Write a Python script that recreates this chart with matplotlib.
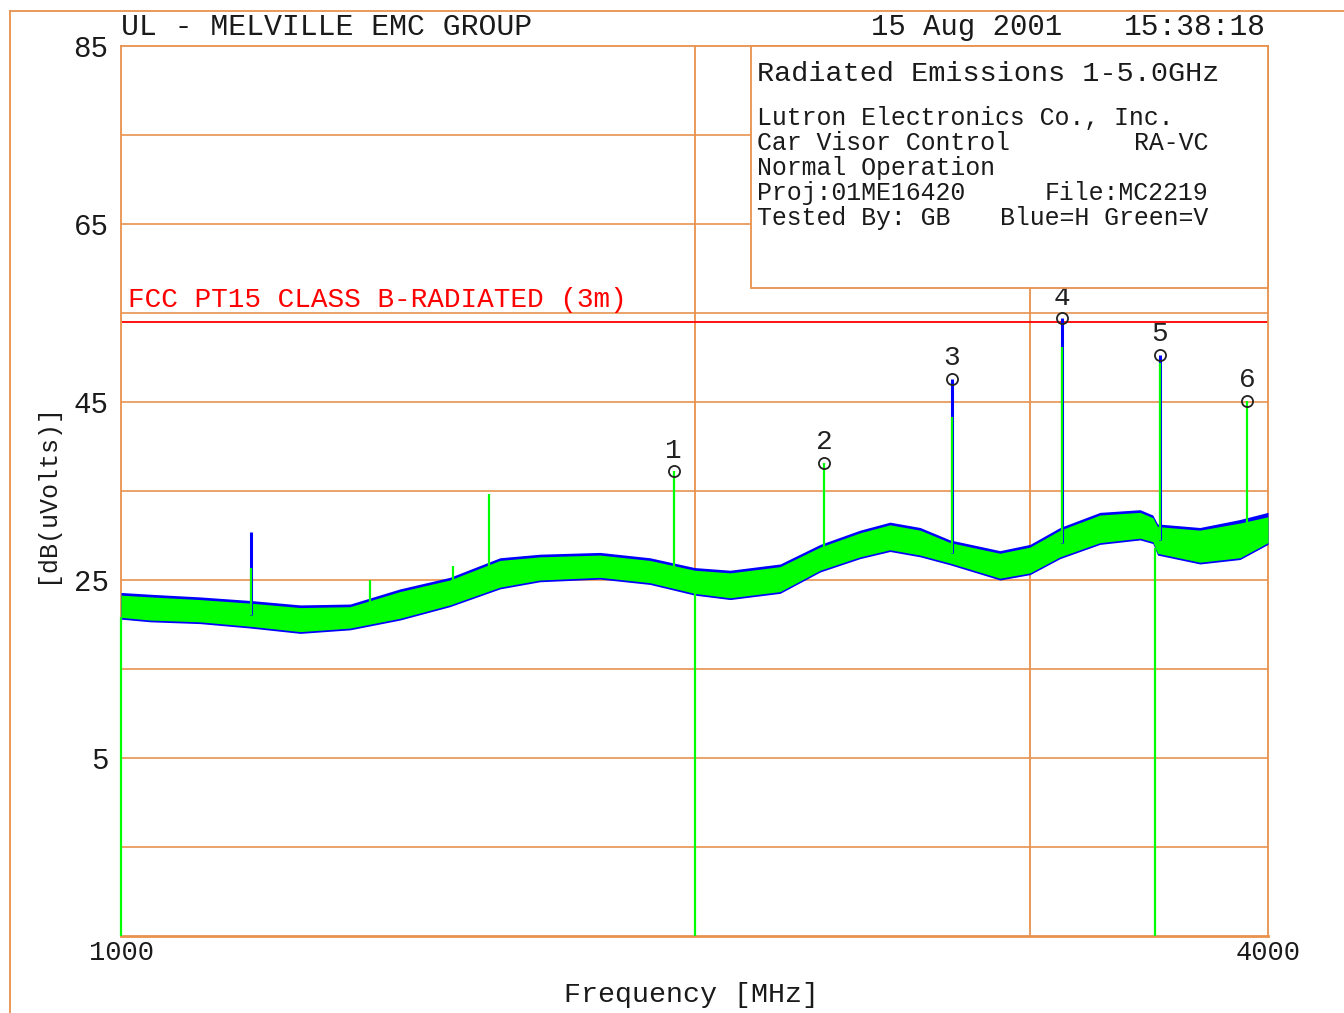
import matplotlib
matplotlib.use("Agg")
import matplotlib.pyplot as plt
import numpy as np
from matplotlib.lines import Line2D
from matplotlib.patches import Rectangle
from matplotlib.ticker import NullLocator

# ---- sweep data (MHz, dBuV) ----
band_freq = [1000, 1036, 1100, 1169, 1242, 1319, 1401, 1488, 1581, 1659, 1784, 1895,
             2000, 2088, 2218, 2328, 2443, 2533, 2627, 2724, 2893, 3000, 3111, 3265,
             3427, 3480, 3500, 3684, 3867, 4000]
green_hi = [23.3, 23.1, 22.8, 22.4, 21.9, 22.0, 23.7, 25.0, 27.2, 27.6, 27.8, 27.2,
            26.1, 25.8, 26.5, 28.7, 30.3, 31.2, 30.6, 29.2, 28.0, 28.7, 30.6, 32.3,
            32.6, 32.0, 31.0, 30.6, 31.4, 32.1]
green_lo = [20.8, 20.5, 20.3, 19.8, 19.2, 19.6, 20.7, 22.2, 24.2, 25.0, 25.3, 24.7,
            23.5, 23.0, 23.7, 26.1, 27.6, 28.4, 27.8, 26.9, 25.2, 25.8, 27.6, 29.2,
            29.7, 29.3, 28.0, 27.0, 27.5, 29.2]
blue_hi = [23.6, 23.4, 23.1, 22.7, 22.2, 22.3, 24.0, 25.3, 27.5, 27.9, 28.1, 27.5,
           26.4, 26.1, 26.8, 29.0, 30.6, 31.5, 30.9, 29.5, 28.3, 29.0, 30.9, 32.6,
           32.9, 32.3, 31.3, 30.9, 31.8, 32.6]
blue_lo = [20.6, 20.3, 20.1, 19.6, 19.0, 19.4, 20.5, 22.0, 24.0, 24.8, 25.1, 24.5,
           23.3, 22.8, 23.5, 25.9, 27.4, 28.2, 27.6, 26.7, 25.0, 25.6, 27.4, 29.0,
           29.5, 29.1, 27.8, 26.8, 27.3, 29.0]

# discrete emissions
green_spike_freq = [1170, 1351, 1494, 1560, 1950, 2340, 2730, 3120, 3510, 3900]
green_spike_peak = [26.3, 25.0, 26.6, 34.7, 37.2, 38.2, 43.3, 51.2, 49.4, 45.1]
blue_spike_freq = [1170, 2730, 3120, 3510]
blue_spike_peak = [30.4, 47.6, 54.4, 50.3]

# sweep segment starts
sweep_starts = [1000, 2000, 3490]

# numbered markers
marker_freq = [1950, 2340, 2730, 3120, 3510, 3900]
marker_level = [37.2, 38.2, 47.6, 54.4, 50.3, 45.1]
marker_names = ["1", "2", "3", "4", "5", "6"]

limit_level = 54.0
limit_label = "FCC PT15 CLASS B-RADIATED (3m)"

y_ticks = [85, 65, 45, 25, 5]
y_grid = [75, 55, 35, 15, -5, 65, 45, 25, 5]
x_ticks = [1000, 4000]
x_grid = [2000, 3000]

info_title = "Radiated Emissions 1-5.0GHz"
info_left = ["Lutron Electronics Co., Inc.", "Car Visor Control", "Normal Operation",
             "Proj:01ME16420", "Tested By: GB"]
info_right = ["", "RA-VC", "", "File:MC2219", "Blue=H Green=V"]

# ---- styling ----
FONT = "Liberation Mono"
ORANGE = "#E8924E"
GREEN = "#00FF00"
BLUE = "#0000FF"
RED = "#FF0000"
INK = "#1a1a1a"
W, H = 1344, 1013


def fx(px):
    return px / W


def fy(py):
    return 1 - py / H


fig = plt.figure(figsize=(W / 100, H / 100), dpi=100)
fig.patch.set_facecolor("white")

# outer page frame
fig.add_artist(Line2D([fx(10), fx(10)], [fy(11), 0], color=ORANGE, lw=1.3))
fig.add_artist(Line2D([fx(10), 1], [fy(11), fy(11)], color=ORANGE, lw=1.3))

ax = fig.add_axes([fx(121), fy(936), 1147 / W, 890 / H])
ax.set_xscale("log")
ax.set_xlim(1000, 4000)
ax.set_ylim(-15, 85)

for s in ax.spines.values():
    s.set_color(ORANGE)
    s.set_linewidth(1.3)
ax.spines["bottom"].set_linewidth(2.0)

ax.set_xticks(x_ticks)
ax.set_xticklabels([str(v) for v in x_ticks])
ax.xaxis.set_minor_locator(NullLocator())
ax.set_yticks(y_ticks)
ax.set_yticklabels([str(v) for v in y_ticks])
ax.tick_params(axis="both", length=0)
ax.tick_params(axis="y", pad=9)
ax.tick_params(axis="x", pad=3)
for lab in ax.get_yticklabels():
    lab.set_fontfamily(FONT)
    lab.set_fontsize(21)
    lab.set_color(INK)
for lab in ax.get_xticklabels():
    lab.set_fontfamily(FONT)
    lab.set_fontsize(19.5)
    lab.set_color(INK)

# grid
for yv in y_grid:
    ax.axhline(yv, color=ORANGE, lw=1.2, zorder=1)
for xv in x_grid:
    ax.axvline(xv, color=ORANGE, lw=1.3, zorder=1)

# limit line
ax.axhline(limit_level, color=RED, lw=1.3, zorder=2)
ax.text(0.006, (936 - 307) / 890, limit_label, transform=ax.transAxes, color=RED,
        fontfamily=FONT, fontsize=20, va="baseline", ha="left", zorder=3)

# info box
box = Rectangle((0.5493, 0.7281), 1 - 0.5493, 1 - 0.7281, transform=ax.transAxes,
                facecolor="white", edgecolor=ORANGE, lw=1.3, zorder=8, clip_on=False)
ax.add_patch(box)

# noise floor
ax.fill_between(band_freq, blue_lo, blue_hi, color=BLUE, lw=0, zorder=3)
ax.fill_between(band_freq, green_lo, green_hi, color=GREEN, lw=0, zorder=4)

logf = np.log10(band_freq)
mid = (np.array(green_lo) + np.array(green_hi)) / 2


def base_at(f):
    return np.interp(np.log10(f), logf, mid)


for f, p in zip(blue_spike_freq, blue_spike_peak):
    ax.vlines(f, base_at(f), p, color=BLUE, lw=2.2, zorder=5)
for f, p in zip(green_spike_freq, green_spike_peak):
    ax.vlines(f, base_at(f), p, color=GREEN, lw=1.6, zorder=6)
for f in sweep_starts:
    ax.vlines(f, -15, np.interp(np.log10(f), logf, green_lo), color=GREEN, lw=1.6,
              zorder=6, clip_on=False)

# markers
ax.plot(marker_freq, marker_level, ls="none", marker="o", ms=8, mfc="none",
        mec="#222222", mew=1.3, zorder=7)
for f, lv, name in zip(marker_freq, marker_level, marker_names):
    ax.annotate(name, (f, lv), xytext=(0, 15), textcoords="offset points",
                ha="center", va="center", fontfamily=FONT, fontsize=20,
                color="#222222", zorder=7)

# header
fig.text(fx(121), fy(35), "UL - MELVILLE EMC GROUP", fontfamily=FONT, fontsize=21.5,
         va="baseline", ha="left", color=INK)
fig.text(fx(1062), fy(35), "15 Aug 2001", fontfamily=FONT, fontsize=20.8,
         va="baseline", ha="right", color=INK)
fig.text(fx(1266), fy(35), "15:38:18", fontfamily=FONT, fontsize=21.3,
         va="baseline", ha="right", color=INK)

# info text
fig.text(fx(757), fy(81), info_title, fontfamily=FONT, fontsize=20.5,
         va="baseline", ha="left", color=INK, zorder=10)
for i, (lt, rt) in enumerate(zip(info_left, info_right)):
    yb = 125 + 25 * i
    fig.text(fx(757), fy(yb), lt, fontfamily=FONT, fontsize=17.9,
             va="baseline", ha="left", color=INK, zorder=10)
    if rt:
        fig.text(fx(1208), fy(yb), rt, fontfamily=FONT, fontsize=17.9,
                 va="baseline", ha="right", color=INK, zorder=10)

# axis labels
fig.text(fx(692), fy(1002), "Frequency [MHz]", fontfamily=FONT, fontsize=20.4,
         va="baseline", ha="center", color=INK)
fig.text(fx(46), fy(493), "[dB(uVolts)]", fontfamily=FONT, fontsize=18,
         va="center", ha="center", rotation=90, color=INK)

fig.savefig("out.png", dpi=100, facecolor="white")
